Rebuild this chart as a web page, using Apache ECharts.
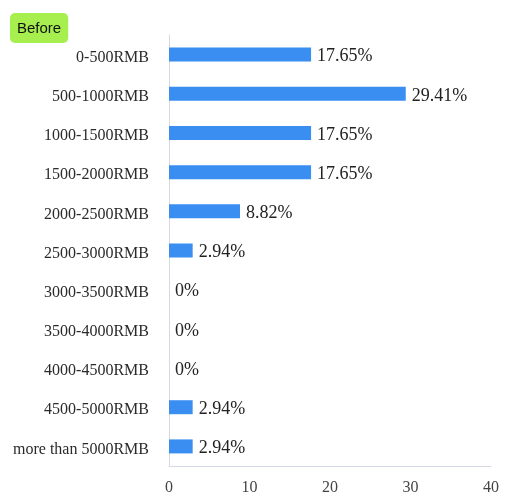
<!DOCTYPE html>
<html><head><meta charset="utf-8">
<script src="https://cdn.jsdelivr.net/npm/echarts@6/dist/echarts.min.js"></script>
<style>html,body{margin:0;padding:0;background:#fff}#c{width:506px;height:496px}</style>
</head><body><div id="c"></div>
<script>
const categories = ['0-500RMB','500-1000RMB','1000-1500RMB','1500-2000RMB','2000-2500RMB','2500-3000RMB','3000-3500RMB','3500-4000RMB','4000-4500RMB','4500-5000RMB','more than 5000RMB'];
const values = [17.65, 29.41, 17.65, 17.65, 8.82, 2.94, 0, 0, 0, 2.94, 2.94];
const xTicks = [0, 10, 20, 30, 40];
const titleText = 'Before';
const serif = '"Liberation Serif", "Times New Roman", serif';
const chart = echarts.init(document.getElementById('c'));
chart.setOption({
  animation: false,
  title: {
    text: titleText, left: 10, top: 13,
    backgroundColor: '#a6ef4e', borderRadius: 5, padding: [8, 7, 7, 7],
    textStyle: {fontFamily: 'Arial, "Liberation Sans", sans-serif', fontSize: 15, fontWeight: 'normal', color: '#111'}
  },
  grid: {left: 169, right: 15, top: 35, bottom: 30, containLabel: false},
  xAxis: {
    type: 'value', min: xTicks[0], max: xTicks[xTicks.length-1], interval: 10,
    axisLine: {show: true, lineStyle: {color: '#d4d9e6', width: 1}},
    axisTick: {show: false}, splitLine: {show: false},
    axisLabel: {fontFamily: serif, fontSize: 16, color: '#444', margin: 14}
  },
  yAxis: {
    type: 'category', data: categories, inverse: true,
    axisLine: {show: true, lineStyle: {color: '#d4d9e6', width: 1}},
    axisTick: {show: false},
    axisLabel: {
      margin: 20,
      formatter: v => '{a|' + v + '}',
      rich: {a: {fontFamily: serif, fontSize: 16, color: '#2a2a2a', padding: [6, 0, 0, 0]}}
    }
  },
  series: [{
    type: 'bar', data: values, barWidth: 14,
    itemStyle: {color: '#3a8ef2'},
    label: {show: true, position: 'right', distance: 6, offset: [0, 2], formatter: p => p.value + '%', fontFamily: serif, fontSize: 18, color: '#222'}
  }]
});
</script></body></html>
